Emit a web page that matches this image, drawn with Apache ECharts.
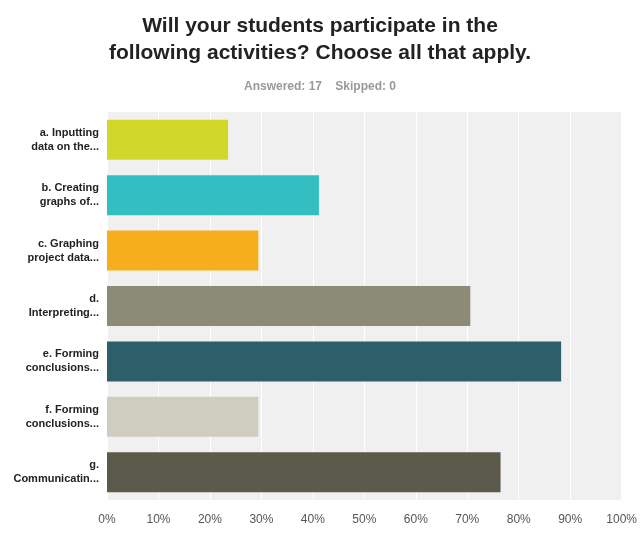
<!DOCTYPE html>
<html><head><meta charset="utf-8">
<script src="https://cdn.jsdelivr.net/npm/echarts@6/dist/echarts.min.js"></script>
<style>html,body{margin:0;padding:0;background:#fff}#c{width:640px;height:536px}</style>
</head><body><div id="c"></div>
<script>
const categories = ["a. Inputting\ndata on the...","b. Creating\ngraphs of...","c. Graphing\nproject data...","d.\nInterpreting...","e. Forming\nconclusions...","f. Forming\nconclusions...","g.\nCommunicatin..."];
const values = [23.53, 41.18, 29.41, 70.59, 88.24, 29.41, 76.47];
const colors = ["#d2d82a","#33bfc1","#f7ae1d","#8b8b78","#2d5f6b","#cfcdbf","#5c5a4b"];
const chart = echarts.init(document.getElementById('c'));
chart.setOption({
  animation:false,
  title:[{text:"Will your students participate in the\nfollowing activities? Choose all that apply.",left:'center',top:8,
    textStyle:{fontFamily:'Arial, Liberation Sans',fontSize:21,fontWeight:'bold',color:'#222',lineHeight:27}},
    {text:"Answered: 17    Skipped: 0",left:'center',top:76,textStyle:{fontFamily:'Arial, Liberation Sans',fontSize:12,fontWeight:'bold',color:'#999'}}],
  grid:{left:107,right:4,top:112,bottom:36,show:true,backgroundColor:'#f0f0f0',borderWidth:0},
  xAxis:{type:'value',min:0,max:100,interval:10,
    axisLabel:{formatter:'{value}%',color:'#555',fontSize:12,fontFamily:'Arial, Liberation Sans',margin:14},
    splitLine:{lineStyle:{color:'#fff',width:1}},axisLine:{show:false},axisTick:{show:false}},
  yAxis:{type:'category',inverse:true,data:categories,
    axisLabel:{color:'#222',fontWeight:'bold',fontSize:11,fontFamily:'Arial, Liberation Sans',align:'right',lineHeight:14,margin:8},
    axisLine:{show:false},axisTick:{show:false}},
  series:[{type:'bar',barWidth:40,data:values.map((v,i)=>({value:v,itemStyle:{color:colors[i]}}))}]
});
</script></body></html>
